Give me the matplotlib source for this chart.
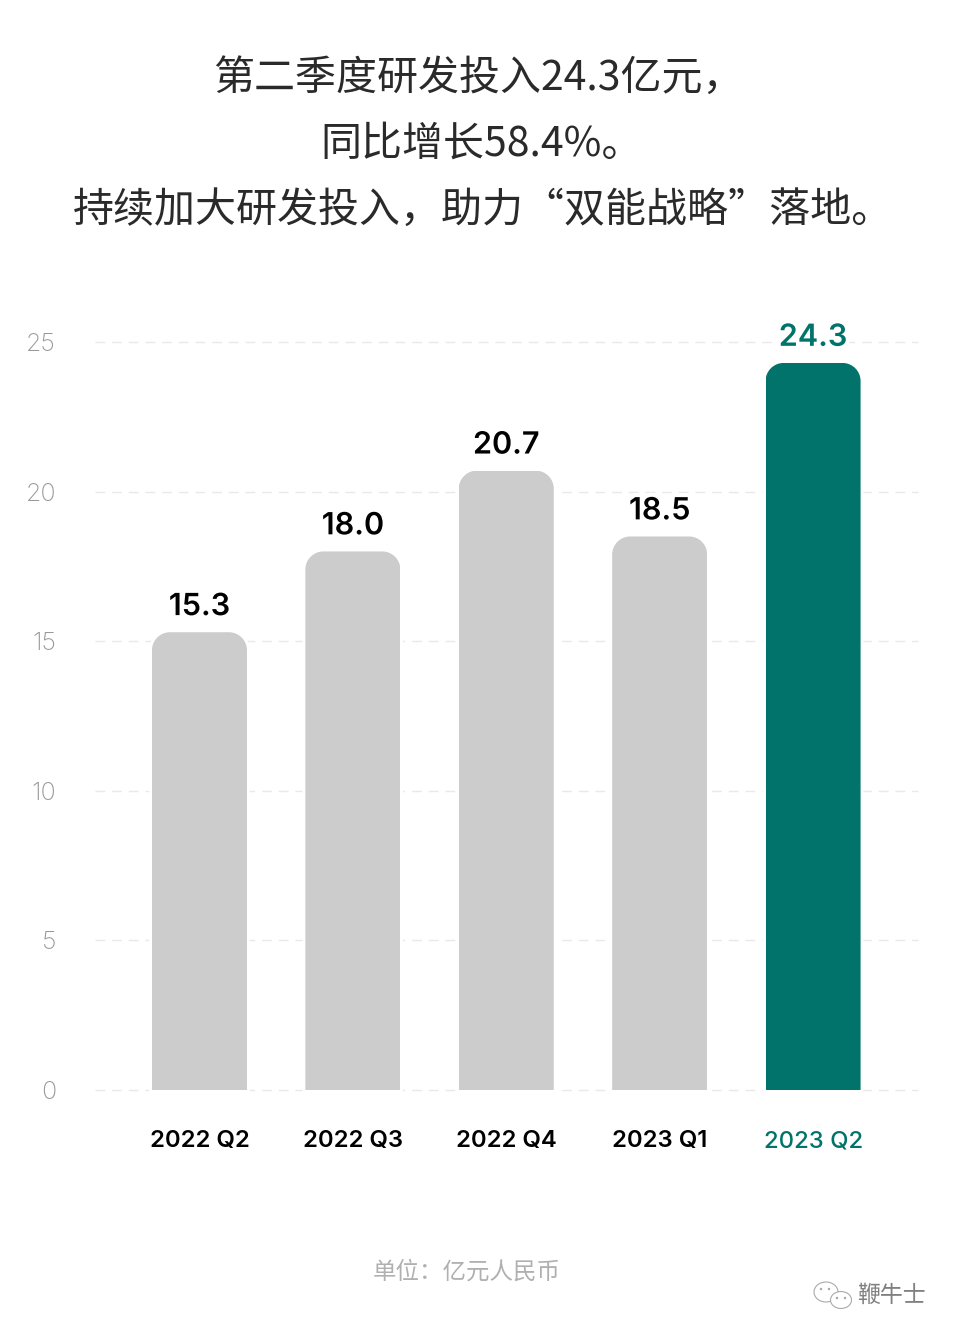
import matplotlib
matplotlib.use('Agg')
import matplotlib.pyplot as plt
import matplotlib.patheffects as pe
from matplotlib.patches import Ellipse, PathPatch
from matplotlib.path import Path

CJK_FONT = ['Noto Sans CJK SC', 'DejaVu Sans']
LATIN_FONT = ['Inter', 'Noto Sans', 'DejaVu Sans']

quarters = ['2022 Q2', '2022 Q3', '2022 Q4', '2023 Q1', '2023 Q2']
values = [15.3, 18.0, 20.7, 18.5, 24.3]
y_ticks = [0, 5, 10, 15, 20, 25]
title_lines = ['第二季度研发投入24.3亿元，', '同比增长58.4%。', '持续加大研发投入，助力“双能战略”落地。']
unit_text = '单位：亿元人民币'
watermark = '鞭牛士'

GREY = '#cccccc'
GREEN = '#01736b'

W, H = 956, 1336


def rounded_top(x, top, width, rx, ry):
    """Bar outline in data coords, only the top corners are rounded."""
    left, right = x - width / 2, x + width / 2
    k = 0.45
    verts = [(left, 0), (left, top - ry),
             (left, top - ry * k), (left + rx * k, top), (left + rx, top),
             (right - rx, top),
             (right - rx * k, top), (right, top - ry * k), (right, top - ry),
             (right, 0), (left, 0)]
    codes = [Path.MOVETO, Path.LINETO,
             Path.CURVE4, Path.CURVE4, Path.CURVE4,
             Path.LINETO,
             Path.CURVE4, Path.CURVE4, Path.CURVE4,
             Path.LINETO, Path.CLOSEPOLY]
    return Path(verts, codes)


fig = plt.figure(figsize=(W / 100, H / 100), dpi=100, facecolor='white')

# axes box follows the grid: x 95..918, y=0 at 1090, y=25 at 342
ax = fig.add_axes([95 / W, 1 - 1090 / H, (918 - 95) / W, (1090 - 342) / H])
ax.set_ylim(0, 25)
ax.set_xlim(-0.681, 4.684)
for side in ax.spines.values():
    side.set_visible(False)
ax.patch.set_visible(False)

ax.set_yticks(y_ticks)
ax.set_xticks(range(len(quarters)))
ax.set_xticklabels(quarters, fontfamily=LATIN_FONT, fontsize=17.2, fontweight='semibold')
ax.tick_params(axis='both', length=0)
ax.tick_params(axis='x', pad=29)
ax.tick_params(axis='y', pad=28, labelsize=18, labelcolor='#999999')
for lab in ax.get_yticklabels():
    lab.set_fontfamily(LATIN_FONT)
    lab.set_fontweight('light')
ax.get_xticklabels()[-1].set_color(GREEN)
ax.get_xticklabels()[-1].set_fontweight('medium')

ax.set_axisbelow(True)
ax.yaxis.grid(True, color='#e9e9e9', linewidth=1, linestyle=(0, (7, 5)))
ax.xaxis.grid(False)
for gl in ax.get_ygridlines():
    gl.set_clip_on(False)

bar_w = 95 / 153.4
rx = 18 / 153.4
ry = 18 / (748 / 25)
colors = [GREY] * 4 + [GREEN]
bars = ax.bar(range(len(values)), values, width=bar_w, color=colors, zorder=3)
for i, (rect, val) in enumerate(zip(bars, values)):
    outline = rounded_top(i, val, bar_w, rx, ry)
    # white halo cuts the grid lines next to the bar
    halo = PathPatch(outline, facecolor='none', edgecolor='white', linewidth=4, zorder=2)
    halo.set_clip_on(False)
    ax.add_patch(halo)
    clip = PathPatch(outline, transform=ax.transData, facecolor='none', edgecolor='none')
    rect.set_clip_path(clip)
    ax.annotate(f'{val:.1f}', (i, val), xytext=(0, 8), textcoords='offset points',
                ha='center', va='bottom', fontfamily=LATIN_FONT, fontsize=22,
                fontweight='semibold', color=GREEN if i == 4 else '#000000', zorder=4,
                path_effects=[pe.withStroke(linewidth=6, foreground='white')])

for line, y, x in zip(title_lines, [78, 144, 210], [478.5, 482, 482.5]):
    fig.text(x / W, 1 - y / H, line, ha='center', va='center', fontfamily=CJK_FONT,
             fontsize=29.5, fontweight='light', color='#2a2a2a')

fig.text(467 / W, 1 - 1272 / H, unit_text, ha='center', va='center', fontfamily=CJK_FONT,
         fontsize=16.9, fontweight='light', color='#b0b0b0')

# wechat mark + account name, bottom right
fig.text(891 / W, 1 - 1295 / H, watermark, ha='center', va='center', fontfamily=CJK_FONT,
         fontsize=16.5, fontweight='light', color='#808080')
for cx, cy, w, h in [(826, 1292, 24, 20), (841, 1300, 21, 17)]:
    fig.add_artist(Ellipse((cx / W, 1 - cy / H), w / W, h / H, transform=fig.transFigure,
                           facecolor='white', edgecolor='#aaaaaa', linewidth=0.8))
for cx, cy in [(821, 1289), (829, 1289), (837, 1298), (845, 1298)]:
    fig.add_artist(Ellipse((cx / W, 1 - cy / H), 2.5 / W, 2.5 / H, transform=fig.transFigure,
                           facecolor='#aaaaaa', edgecolor='none'))

fig.savefig('out.png', dpi=100)
